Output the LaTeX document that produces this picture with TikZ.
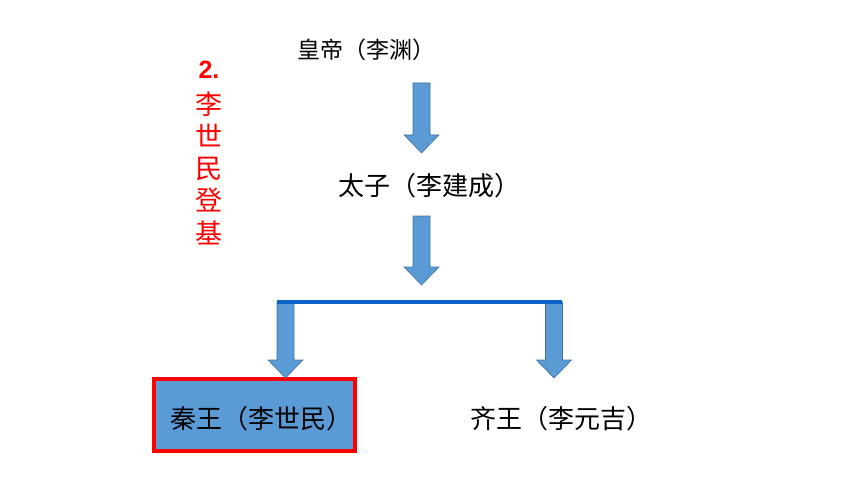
\documentclass[tikz,border=0pt]{standalone}
\usepackage{fontspec}
\setmainfont{Noto Sans CJK SC}
\newfontfamily\numfont{Liberation Sans}
\usetikzlibrary{calc}

\definecolor{arrowblue}{RGB}{91,155,213}
\definecolor{arrowedge}{RGB}{65,113,156}
\definecolor{barblue}{RGB}{10,100,200}
\definecolor{titlered}{RGB}{255,0,0}

\begin{document}
\begin{tikzpicture}[x=1pt, y=-1pt,
    person/.style={inner sep=0pt, font=\fontsize{26}{30}\selectfont},
    headline/.style={inner sep=0pt, align=center, text=titlered, font=\fontsize{27}{32.3}\selectfont},
    qinbox/.style={fill=arrowblue, draw=titlered, line width=3.5pt},
    bar/.style={draw=barblue, line width=4pt},
    blockarrow/.style={fill=arrowblue, draw=arrowedge, line width=0.6pt,
        to path={($(\tikztostart)+(-8.5,0)$) -- ($(\tikztostart)+(8.5,0)$)
            -- ($(\tikztotarget)+(8.5,-18)$) -- ($(\tikztotarget)+(17.5,-18)$)
            -- (\tikztotarget) -- ($(\tikztotarget)+(-17.5,-18)$)
            -- ($(\tikztotarget)+(-8.5,-18)$) -- cycle}}]
    \useasboundingbox (0,0) rectangle (860,484);

    % names
    \node[person, font=\fontsize{23}{28}\selectfont] (emperor) at (366, 50) {皇帝（李渊）};
    \node[person] (prince) at (429, 186) {太子（李建成）};
    \draw[qinbox] (154, 379) rectangle (355, 451);
    \node[person] (qin) at (261, 419) {秦王（李世民）};
    \node[person] (qi) at (561, 419) {齐王（李元吉）};
    \node[headline] (heading) at (209, 153) {{\fontsize{25}{30}\selectfont\numfont\bfseries 2.}\\[3pt]李\\世\\民\\登\\基};

    % arrows
    \coordinate (top1) at (421.5, 83);
    \coordinate (tip1) at (421.5, 153);
    \coordinate (top2) at (421.5, 216);
    \coordinate (tip2) at (421.5, 285);
    \coordinate (barleft) at (277, 302);
    \coordinate (barright) at (562, 302);
    \coordinate (tip3) at (285.5, 378);
    \coordinate (tip4) at (554, 378);
    \draw[blockarrow] (top1) to (tip1);
    \draw[blockarrow] (top2) to (tip2);
    \draw[blockarrow] (barleft -| tip3) to (tip3);
    \draw[blockarrow] (barright -| tip4) to (tip4);
    \draw[bar] (barleft) -- (barright);
\end{tikzpicture}
\end{document}
